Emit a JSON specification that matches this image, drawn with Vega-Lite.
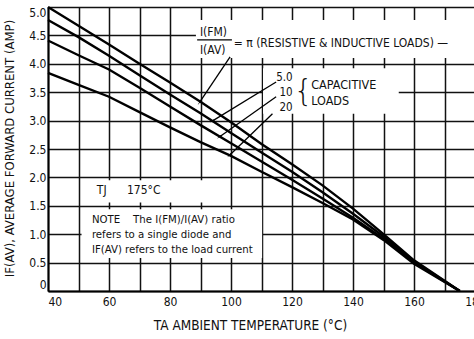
{
  "$schema": "https://vega.github.io/schema/vega-lite/v6.json",
  "width": 427,
  "height": 284,
  "autosize": {"type": "none"},
  "padding": {"left": 48, "top": 7, "right": 0, "bottom": 48},
  "background": "white",
  "config": {
    "view": {"stroke": null},
    "font": "Liberation Sans Narrow, DejaVu Sans Condensed, Arial Narrow, sans-serif"
  },
  "datasets": {
    "curves": [
      {"series": "pi", "T": 40, "I": 5.0}, {"series": "pi", "T": 50, "I": 4.67}, {"series": "pi", "T": 60, "I": 4.34},
      {"series": "pi", "T": 70, "I": 4.0}, {"series": "pi", "T": 80, "I": 3.67}, {"series": "pi", "T": 90, "I": 3.33},
      {"series": "pi", "T": 100, "I": 2.97}, {"series": "pi", "T": 110, "I": 2.59}, {"series": "pi", "T": 120, "I": 2.23},
      {"series": "pi", "T": 130, "I": 1.86}, {"series": "pi", "T": 140, "I": 1.45}, {"series": "pi", "T": 150, "I": 1.0},
      {"series": "pi", "T": 160, "I": 0.54}, {"series": "pi", "T": 175, "I": 0.0},
      {"series": "5.0", "T": 40, "I": 4.77}, {"series": "5.0", "T": 50, "I": 4.47}, {"series": "5.0", "T": 60, "I": 4.14},
      {"series": "5.0", "T": 70, "I": 3.8}, {"series": "5.0", "T": 80, "I": 3.46}, {"series": "5.0", "T": 90, "I": 3.13},
      {"series": "5.0", "T": 100, "I": 2.78}, {"series": "5.0", "T": 110, "I": 2.44}, {"series": "5.0", "T": 120, "I": 2.1},
      {"series": "5.0", "T": 130, "I": 1.74}, {"series": "5.0", "T": 140, "I": 1.36}, {"series": "5.0", "T": 150, "I": 0.96},
      {"series": "5.0", "T": 160, "I": 0.52}, {"series": "5.0", "T": 175, "I": 0.0},
      {"series": "10", "T": 40, "I": 4.41}, {"series": "10", "T": 50, "I": 4.15}, {"series": "10", "T": 60, "I": 3.9},
      {"series": "10", "T": 70, "I": 3.58}, {"series": "10", "T": 80, "I": 3.25}, {"series": "10", "T": 90, "I": 2.92},
      {"series": "10", "T": 100, "I": 2.6}, {"series": "10", "T": 110, "I": 2.28}, {"series": "10", "T": 120, "I": 1.96},
      {"series": "10", "T": 130, "I": 1.63}, {"series": "10", "T": 140, "I": 1.29}, {"series": "10", "T": 150, "I": 0.92},
      {"series": "10", "T": 160, "I": 0.5}, {"series": "10", "T": 175, "I": 0.0},
      {"series": "20", "T": 40, "I": 3.84}, {"series": "20", "T": 50, "I": 3.63}, {"series": "20", "T": 60, "I": 3.42},
      {"series": "20", "T": 70, "I": 3.15}, {"series": "20", "T": 80, "I": 2.88}, {"series": "20", "T": 90, "I": 2.62},
      {"series": "20", "T": 100, "I": 2.38}, {"series": "20", "T": 110, "I": 2.1}, {"series": "20", "T": 120, "I": 1.83},
      {"series": "20", "T": 130, "I": 1.55}, {"series": "20", "T": 140, "I": 1.26}, {"series": "20", "T": 150, "I": 0.9},
      {"series": "20", "T": 160, "I": 0.48}, {"series": "20", "T": 175, "I": 0.0}
    ],
    "boxes": [
      {"T": 88.5, "T2": 180, "I": 4.1, "I2": 4.77},
      {"T": 110.5, "T2": 155, "I": 3.12, "I2": 3.92},
      {"T": 51, "T2": 99, "I": 1.56, "I2": 1.95},
      {"T": 51, "T2": 110.2, "I": 0.58, "I2": 1.44}
    ],
    "arrows": [
      {"T": 99.7, "I": 4.12, "T2": 89.8, "I2": 3.33, "dir": 214},
      {"T": 114.8, "I": 3.68, "T2": 94.1, "I2": 3.0, "dir": 239},
      {"T": 114.8, "I": 3.42, "T2": 96.4, "I2": 2.72, "dir": 236},
      {"T": 113.6, "I": 3.12, "T2": 99.7, "I2": 2.4, "dir": 227}
    ],
    "bar": [{"T": 88.9, "T2": 100.3, "I": 4.42, "I2": 4.42}],
    "mainText": [
      {"T": 89.8, "I": 4.56, "label": "I(FM)"},
      {"T": 89.8, "I": 4.24, "label": "I(AV)"},
      {"T": 100.9, "I": 4.37, "label": "= π (RESISTIVE & INDUCTIVE LOADS) —"},
      {"T": 56, "I": 1.78, "label": "TJ"},
      {"T": 65.9, "I": 1.78, "label": "175°C"}
    ],
    "capText": [
      {"T": 126.3, "I": 3.63, "label": "CAPACITIVE"},
      {"T": 126.3, "I": 3.34, "label": "LOADS"}
    ],
    "ratioText": [
      {"T": 120.2, "I": 3.75, "label": "5.0"},
      {"T": 120.2, "I": 3.48, "label": "10"},
      {"T": 120.2, "I": 3.22, "label": "20"}
    ],
    "brace": [{"T": 120.6, "I": 3.5, "label": "{"}],
    "noteText": [
      {"T": 54.4, "I": 1.25, "label": "NOTE\u00a0\u00a0\u00a0 The I(FM)/I(AV) ratio"},
      {"T": 54.4, "I": 0.99, "label": "refers to a single diode and"},
      {"T": 54.4, "I": 0.72, "label": "IF(AV) refers to the load current"}
    ]
  },
  "encoding": {
    "x": {
      "field": "T", "type": "quantitative",
      "scale": {"domain": [40, 180], "nice": false, "zero": false},
      "axis": {
        "values": [40, 50, 60, 70, 80, 90, 100, 110, 120, 130, 140, 150, 160, 170, 180],
        "labelExpr": "datum.value % 20 == 0 ? datum.label : ''",
        "grid": true, "gridColor": "#111", "gridWidth": 1.5, "gridOpacity": 1,
        "ticks": false, "domainColor": "#000", "domainWidth": 2,
        "labelFontSize": 12, "labelColor": "#111", "labelPadding": 5, "labelFlush": false,
        "labelAlign": {"condition": {"test": "datum.value == 40", "value": "left"}, "value": "center"},
        "title": "TA  AMBIENT TEMPERATURE (°C)",
        "titleFontSize": 13.5, "titleFontWeight": "normal", "titleColor": "#111",
        "titleX": 202, "titleY": 34, "titleAlign": "center", "titleBaseline": "middle"
      }
    },
    "y": {
      "field": "I", "type": "quantitative",
      "scale": {"domain": [0, 5], "nice": false, "zero": true},
      "axis": {
        "values": [0, 0.5, 1, 1.5, 2, 2.5, 3, 3.5, 4, 4.5, 5],
        "labelExpr": "datum.value == 0 ? '0' : format(datum.value, '.1f')",
        "grid": true, "gridColor": "#111", "gridWidth": 1.5, "gridOpacity": 1,
        "ticks": false, "domainColor": "#000", "domainWidth": 2,
        "labelFontSize": 12, "labelColor": "#111", "labelPadding": 2, "labelFlush": true,
        "title": "IF(AV), AVERAGE FORWARD CURRENT (AMP)",
        "titleFontSize": 13, "titleFontWeight": "normal", "titleColor": "#111",
        "titleX": -39, "titleY": 141, "titleAngle": -90, "titleAlign": "center", "titleBaseline": "middle"
      }
    }
  },
  "layer": [
    {
      "data": {"name": "boxes"},
      "mark": {"type": "rect", "color": "white"},
      "encoding": {"x2": {"field": "T2"}, "y2": {"field": "I2"}}
    },
    {
      "data": {"name": "curves"},
      "mark": {"type": "line", "color": "#000", "strokeWidth": 2.4},
      "encoding": {"detail": {"field": "series"}}
    },
    {
      "data": {"name": "arrows"},
      "mark": {"type": "rule", "color": "#000", "strokeWidth": 1.3},
      "encoding": {"x2": {"field": "T2"}, "y2": {"field": "I2"}}
    },
    {
      "data": {"name": "arrows"},
      "mark": {"type": "point", "shape": "wedge", "filled": true, "color": "#000", "size": 45, "opacity": 1},
      "encoding": {
        "x": {"field": "T2", "type": "quantitative"},
        "y": {"field": "I2", "type": "quantitative"},
        "angle": {"field": "dir", "type": "quantitative", "scale": null}
      }
    },
    {
      "data": {"name": "bar"},
      "mark": {"type": "rule", "color": "#000", "strokeWidth": 1.2},
      "encoding": {"x2": {"field": "T2"}, "y2": {"field": "I2"}}
    },
    {
      "data": {"name": "mainText"},
      "mark": {"type": "text", "align": "left", "baseline": "middle", "fontSize": 12, "color": "#111"},
      "encoding": {"text": {"field": "label"}}
    },
    {
      "data": {"name": "capText"},
      "mark": {"type": "text", "align": "left", "baseline": "middle", "fontSize": 12.5, "color": "#111"},
      "encoding": {"text": {"field": "label"}}
    },
    {
      "data": {"name": "ratioText"},
      "mark": {"type": "text", "align": "right", "baseline": "middle", "fontSize": 11.5, "color": "#111"},
      "encoding": {"text": {"field": "label"}}
    },
    {
      "data": {"name": "brace"},
      "mark": {"type": "text", "align": "left", "baseline": "middle", "fontSize": 30, "color": "#111", "font": "DejaVu Sans", "fontWeight": 200},
      "encoding": {"text": {"field": "label"}}
    },
    {
      "data": {"name": "noteText"},
      "mark": {"type": "text", "align": "left", "baseline": "middle", "fontSize": 11.3, "color": "#111"},
      "encoding": {"text": {"field": "label"}}
    }
  ]
}
